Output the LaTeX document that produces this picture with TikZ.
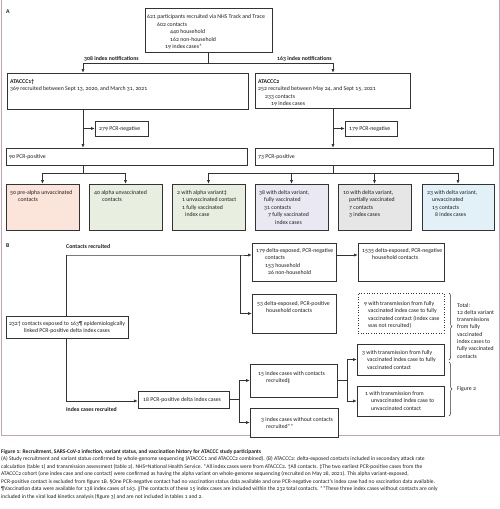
\documentclass[tikz,border=0pt]{standalone}
\usepackage{fontspec}
\setmainfont{Carlito}[Numbers=OldStyle]
\newfontfamily\dvfont{DejaVu Sans}
\usetikzlibrary{arrows.meta,decorations.pathreplacing,fit,calc}
\definecolor{ln}{HTML}{333333}
\definecolor{tc}{HTML}{1E1E1E}
\definecolor{pinkf}{HTML}{FBE4DA}
\definecolor{greenf}{HTML}{E9EFE0}
\definecolor{lavf}{HTML}{EAE9F3}
\definecolor{grayf}{HTML}{E6E6E6}
\definecolor{bluef}{HTML}{E2F1F7}
\definecolor{framec}{HTML}{C8A3B2}
\newcommand\ml[1]{\begin{tabular}[t]{@{}l@{}}#1\end{tabular}}
\newcommand\mc[1]{\begin{tabular}[t]{@{}c@{}}#1\end{tabular}}
\newcommand\ind[1]{\hspace*{#1pt}}
\newcommand\dbar{{\dvfont\fontsize{4.6}{7.5}\selectfont ‖}}
\tikzset{
  box/.style={draw=ln, line width=0.6pt, inner sep=0pt, fill=white},
  dotbox/.style={draw=ln, line width=0.6pt, inner sep=0pt, dotted, fill=white},
  tx/.style={inner sep=0pt, anchor=base west, text=tc, font=\fontsize{5.8}{7.5}\selectfont},
  btx/.style={tx, font=\fontsize{5.8}{7.5}\selectfont\bfseries},
  capt/.style={inner sep=0pt, anchor=base west, text=tc, font=\fontsize{5.55}{7.5}\selectfont},
  conn/.style={draw=ln, line width=0.6pt},
  arr/.style={conn, -{Latex[length=3.5pt,width=3pt]}},
  brc/.style={draw=ln, line width=0.5pt, decorate, decoration={brace, amplitude=3pt}}
}
\begin{document}
\begin{tikzpicture}[x=1pt,y=-1pt]
\useasboundingbox (0,0) rectangle (500,509);
% frame
\draw[framec, line width=0.7pt] (1,0) -- (1,435) -- (499,435) -- (499,0);

% ---------- Panel A ----------
\node[btx] (lA) at (6,13.5) {A};
\node[box, fit={(145,8) (272,52)}] (topbox) {};
\node[tx] (ttop) at (147,18.5) {\ml{621 participants recruited via NHS Track and Trace\\
 \ind{10}602 contacts\\ \ind{23}440 household\\ \ind{23}162 non-household\\ \ind{18}19 index cases*}};

\node[box, fit={(7,73) (248,109)}] (acc1) {};
\node[tx] (tacc1) at (10,83) {\ml{\textbf{ATACCC1†}\\369 recruited between Sept 13, 2020, and March 31, 2021}};
\node[box, fit={(255,73) (410,108)}] (acc2) {};
\node[tx] (tacc2) at (258,83) {\ml{\textbf{ATACCC2}\\252 recruited between May 24, and Sept 15, 2021\\ \ind{7}233 contacts\\ \ind{13}19 index cases}};

\coordinate (jL) at (83,63);
\coordinate (jR) at (333,63);
\node[btx] (l308) at (84,60.5) {308 index notifications};
\node[btx, anchor=base east] (l163) at (332,60.5) {163 index notifications};
\draw[conn] (topbox.south) -- (topbox.south |- jL);
\draw[arr] (topbox.south |- jL) -- (jL) -- (jL |- acc1.north);
\draw[arr] (topbox.south |- jR) -- (jR) -- (jR |- acc2.north);

\node[box, fit={(95,121) (148,136)}] (n279) {};
\node[tx] (t279) at (99,130.5) {279 PCR-negative};
\node[box, fit={(345,121) (397,136)}] (n179) {};
\node[tx] (t179) at (349,130.5) {179 PCR-negative};
\node[box, fit={(6,148) (247,165)}] (p90) {};
\node[tx] (t90) at (9,158.5) {90 PCR-positive};
\node[box, fit={(255,148) (493,165)}] (p73) {};
\node[tx] (t73) at (258,158.5) {73 PCR-positive};

\draw[arr] (jL |- acc1.south) -- (jL |- p90.north);
\draw[arr] (jL |- n279.west) -- (n279.west);
\draw[arr] (jR |- acc2.south) -- (jR |- p73.north);
\draw[arr] (jR |- n179.west) -- (n179.west);

\node[box, fill=pinkf, fit={(6,184) (79,230)}] (b1) {};
\node[box, fill=greenf, fit={(89,184) (162,230)}] (b2) {};
\node[box, fill=greenf, fit={(172,184) (245,230)}] (b3) {};
\node[box, fill=lavf, fit={(255,184) (328,230)}] (b4) {};
\node[box, fill=grayf, fit={(338,184) (411,230)}] (b5) {};
\node[box, fill=bluef, fit={(422,184) (494,230)}] (b6) {};
\node[tx] (tb1) at (10,194) {\ml{50 pre-alpha unvaccinated\\ \ind{8}contacts}};
\node[tx] (tb2) at (94,194) {\ml{40 alpha unvaccinated\\ \ind{8}contacts}};
\node[tx] (tb3) at (177,194) {\ml{2 with alpha variant‡\\ \ind{5}1 unvaccinated contact\\ \ind{5}1 fully vaccinated\\ \ind{8}index case}};
\node[tx] (tb4) at (259,194) {\ml{38 with delta variant,\\ \ind{5}fully vaccinated\\ \ind{5}31 contacts\\ \ind{9}7 fully vaccinated\\ \ind{16}index cases}};
\node[tx] (tb5) at (343,194) {\ml{10 with delta variant,\\ \ind{6}partially vaccinated\\ \ind{6}7 contacts\\ \ind{6}3 index cases}};
\node[tx] (tb6) at (427,194) {\ml{23 with delta variant,\\ \ind{5}unvaccinated\\ \ind{5}15 contacts\\ \ind{8}8 index cases}};

\coordinate (kL) at (83,173);
\coordinate (kR) at (333,173);
\draw[conn] (jL |- p90.south) -- (kL);
\draw[arr] (kL) -- (kL -| b1.north) -- (b1.north);
\draw[arr] (kL) -- (kL -| b2.north) -- (b2.north);
\draw[conn] (jR |- p73.south) -- (kR);
\draw[arr] (kR) -- (kR -| b3.north) -- (b3.north);
\draw[arr] (kR) -- (kR -| b4.north) -- (b4.north);
\draw[arr] (kR) -- (kR -| b5.north) -- (b5.north);
\draw[arr] (kR) -- (kR -| b6.north) -- (b6.north);

% ---------- Panel B ----------
\node[btx] (lB) at (6,247.5) {B};
\node[btx] (lcr) at (66,248) {Contacts recruited};

\node[box, fit={(252,243) (336,281)}] (c179) {};
\node[tx] (tc179) at (256,252) {\ml{179 delta-exposed, PCR-negative\\ \ind{9}contacts\\ \ind{9}153 household\\ \ind{12}26 non-household}};
\node[box, fit={(358,243) (444,281)}] (c1535) {};
\node[tx] (tc1535) at (362,252) {\ml{1535 delta-exposed, PCR-negative\\ \ind{10}household contacts}};
\node[box, fit={(252,294) (336,333)}] (c53) {};
\node[tx] (tc53) at (257,305) {\ml{53 delta-exposed, PCR-positive\\ \ind{9}household contacts}};
\node[dotbox, fit={(358,293) (444,333)}] (c9) {};
\node[tx] (tc9) at (364,305) {\ml{9 with transmission from fully\\ \ind{4}vaccinated index case to fully\\ \ind{4}vaccinated contact (index case\\ \ind{4}was not recruited)}};

\coordinate (vtop) at (66,255);
\coordinate (vbot) at (66,401);
\coordinate (sp1) at (240,255);
\draw[conn] (vtop) -- (vbot);
\draw[arr] (vtop) -- (sp1) -- (sp1 -| c179.west);
\draw[arr] (sp1) -- (sp1 |- c53.west) -- (c53.west);
\draw[arr] (c179.east |- sp1) -- (c1535.west |- sp1);

\node[box, fit={(6,316) (128,338)}] (c232) {};
\node[tx, anchor=base] (tc232) at (67,325) {\mc{232† contacts exposed to 163¶ epidemiologically\\linked PCR-positive delta index cases}};

\node[box, fit={(138,391) (229,408)}] (c18) {};
\node[tx] (tc18) at (143,401.5) {18 PCR-positive delta index cases};
\node[btx] (lic) at (66,411.5) {Index cases recruited};
\draw[arr] (vbot) -- (vbot -| c18.west);

\node[box, fit={(250,364) (337,397)}] (c15) {};
\node[tx] (tc15) at (258,375) {\ml{15 index cases with contacts\\ \ind{8}recruited\dbar}};
\node[box, fit={(250,408) (338,437)}] (c3) {};
\node[tx] (tc3) at (261,421) {\ml{3 index cases without contacts\\ \ind{5}recruited**}};
\coordinate (sp2) at (239,399.5);
\draw[conn] (c18.east) -- (sp2);
\draw[arr] (sp2) -- (sp2 |- c15.west) -- (c15.west);
\draw[arr] (sp2) -- (sp2 |- c3.west) -- (c3.west);

\node[box, fit={(357,344) (444,375)}] (t3) {};
\node[tx] (tt3) at (362,354) {\ml{3 with transmission from fully\\ \ind{5}vaccinated index case to fully\\ \ind{5}vaccinated contact}};
\node[box, fit={(357,386) (444,416)}] (t1) {};
\node[tx] (tt1) at (365,395) {\ml{1 with transmission from\\ \ind{6}unvaccinated index case to\\ \ind{6}unvaccinated contact}};
\coordinate (sp3) at (347,380.5);
\draw[conn] (c15.east) -- (sp3);
\draw[arr] (sp3) -- (sp3 |- t3.west) -- (t3.west);
\draw[arr] (sp3) -- (sp3 |- t1.west) -- (t1.west);

\draw[brc] (449,293) -- (449,360);
\draw[brc] (449,362) -- (449,416);
\node[tx, font=\fontsize{5.8}{7.3}\selectfont] (ttot) at (457,307) {\ml{Total:\\12 delta variant\\transmissions\\from fully\\vaccinated\\index cases to\\fully vaccinated\\contacts}};
\node[tx] (tfig2) at (457,390) {Figure 2};

% ---------- Caption ----------
\node[capt, font=\fontsize{5.55}{7.5}\selectfont\bfseries] (cap1) at (1,453) {Figure 1: Recruitment, SARS-CoV-2 infection, variant status, and vaccination history for ATACCC study participants};
\node[capt] (cap2) at (1,460.5) {(A) Study recruitment and variant status confirmed by whole-genome sequencing (ATACCC1 and ATACCC2 combined). (B) ATACCC2: delta-exposed contacts included in secondary attack rate};
\node[capt] (cap3) at (1,468) {calculation (table 1) and transmission assessment (table 2). NHS=National Health Service. *All index cases were from ATACCC2. †All contacts. ‡The two earliest PCR-positive cases from the};
\node[capt] (cap4) at (1,475.5) {ATACCC2 cohort (one index case and one contact) were confirmed as having the alpha variant on whole-genome sequencing (recruited on May 28, 2021). This alpha variant-exposed,};
\node[capt] (cap5) at (1,483) {PCR-positive contact is excluded from figure 1B. §One PCR-negative contact had no vaccination status data available and one PCR-negative contact’s index case had no vaccination data available.};
\node[capt] (cap6) at (1,490.5) {¶Vaccination data were available for 138 index cases of 163. \dbar The contacts of these 15 index cases are included within the 232 total contacts. **These three index cases without contacts are only};
\node[capt] (cap7) at (1,498) {included in the viral load kinetics analysis (figure 3) and are not included in tables 1 and 2.};
\end{tikzpicture}
\end{document}
